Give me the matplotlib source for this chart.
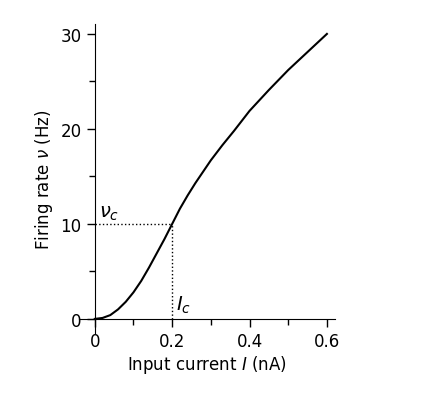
import matplotlib.pyplot as plt
from matplotlib.ticker import MultipleLocator

# values
current = [0.0, 0.02, 0.04, 0.06, 0.08, 0.1, 0.12, 0.14, 0.16, 0.18, 0.2, 0.22, 0.24, 0.26,
           0.28, 0.3, 0.33, 0.36, 0.4, 0.45, 0.5, 0.55, 0.6]
rate = [0.0, 0.1, 0.4, 1.0, 1.8, 2.8, 4.0, 5.4, 6.9, 8.4, 10.0, 11.6, 13.0, 14.3,
        15.5, 16.7, 18.3, 19.8, 21.9, 24.1, 26.2, 28.1, 30.0]
i_c, nu_c = 0.2, 10.0

fig = plt.figure(figsize=(4.22, 4.10), dpi=100)
ax = fig.add_axes([0.188, 0.185, 0.605, 0.753])

ax.plot(current, rate, color='black', lw=1.5)
ax.plot([0, i_c], [nu_c, nu_c], ':', color='black', lw=1)
ax.plot([i_c, i_c], [0, nu_c], ':', color='black', lw=1)

ax.set_xlim(-0.04, 0.62)
ax.set_ylim(-1.5, 31)
for s in ['top', 'right']:
    ax.spines[s].set_visible(False)
ax.spines['left'].set_position(('data', 0))
ax.spines['bottom'].set_position(('data', 0))
ax.set_xticks([0, 0.2, 0.4, 0.6])
ax.set_xticklabels(['0', '0.2', '0.4', '0.6'])
ax.xaxis.set_minor_locator(MultipleLocator(0.1))
ax.set_yticks([0, 10, 20, 30])
ax.yaxis.set_minor_locator(MultipleLocator(5))
ax.tick_params(which='major', length=6, width=1, labelsize=12, direction='out')
ax.tick_params(which='minor', length=4, width=1, direction='out')

ax.set_xlabel('Input current $\\mathit{I}$ (nA)', fontsize=12, labelpad=2)
ax.set_ylabel('Firing rate $\\nu$ (Hz)', fontsize=12)
ax.text(0.01, 10.8, r'$\nu_c$', fontsize=14)
ax.text(0.21, 1.0, r'$I_c$', fontsize=14)

fig.savefig('out.png', dpi=100)
